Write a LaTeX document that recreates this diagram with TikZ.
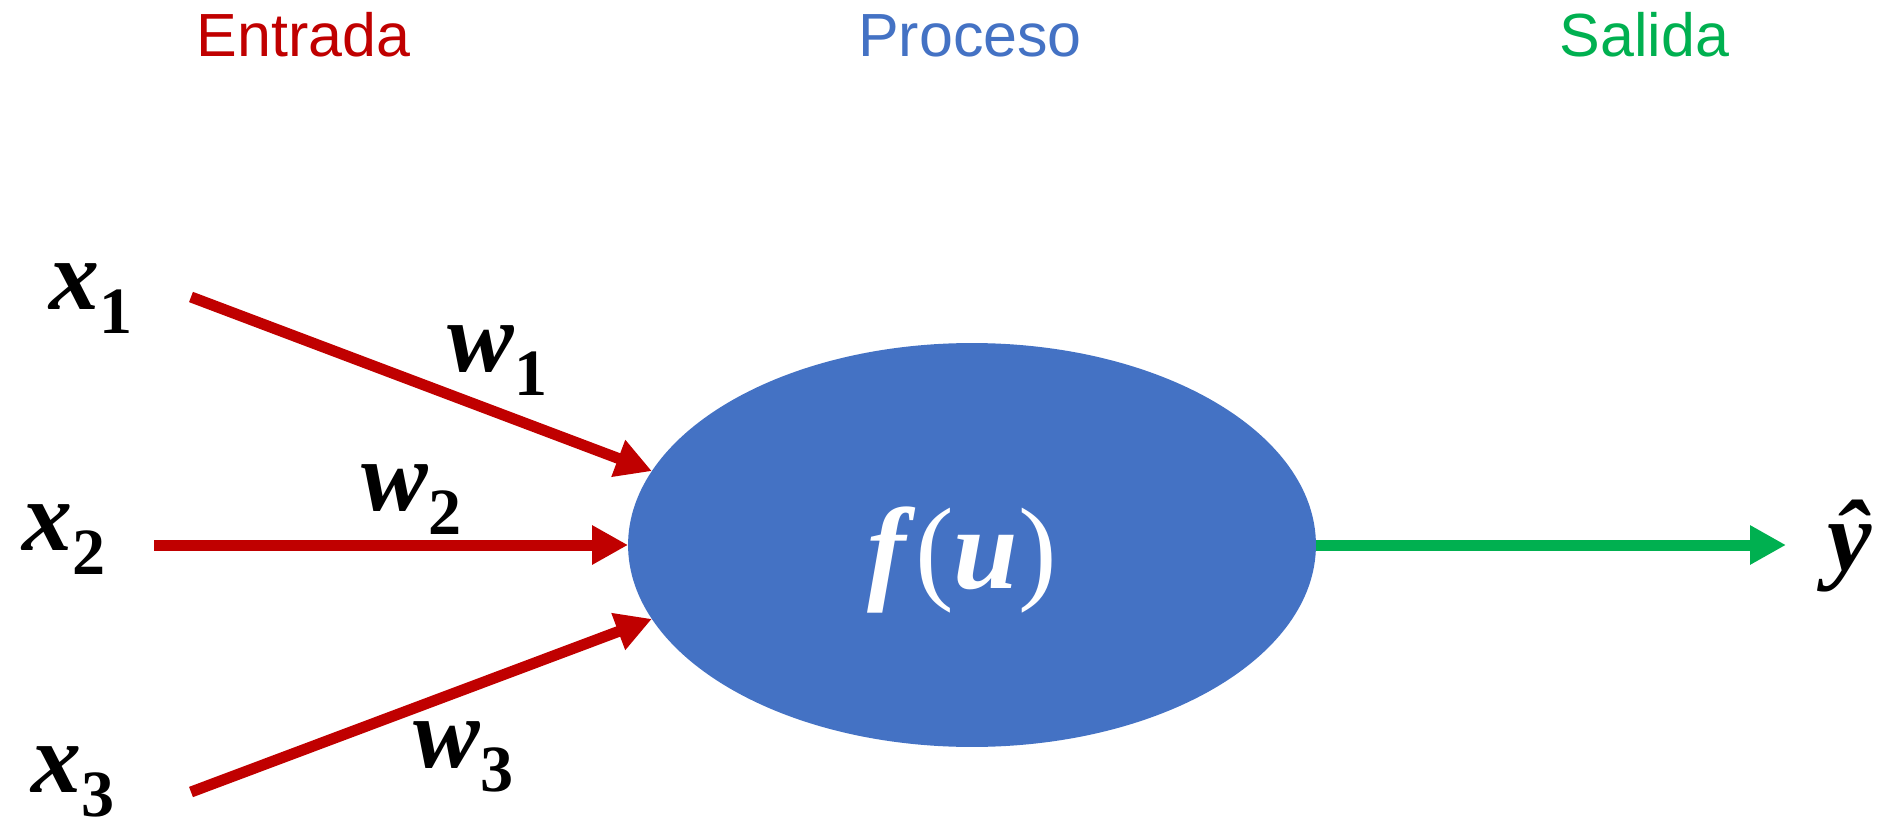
\documentclass[tikz,border=0pt]{standalone}
\usepackage{fontspec}
\setmainfont{Liberation Serif}
\newfontfamily\arial{Liberation Sans}
\usetikzlibrary{arrows.meta,shapes.geometric}
\definecolor{rojo}{HTML}{C00000}
\definecolor{azul}{HTML}{4472C4}
\definecolor{verde}{HTML}{00B050}
% variable with subscript, as in the slide
\newcommand{\entvar}[2]{\textbf{\textit{#1}}\raisebox{-13.7pt}{\fontsize{37.6}{37.6}\selectfont\bfseries #2}}
\tikzset{tit/.style={font=\arial\fontsize{34.7}{34.7}\selectfont, anchor=base},
  lbl/.style={font=\fontsize{56.9}{56.9}\selectfont, anchor=base west, inner sep=0pt}}

\begin{document}
\begin{tikzpicture}[x=0.02cm, y=-0.02cm, line width=0.22cm,
  >={Triangle[length=0.72cm, width=0.74cm]}]
  \useasboundingbox (0,0) rectangle (1883,824);
  % titles
  \node[tit, text=rojo]  (ent)  at (303.5,57)  {Entrada};
  \node[tit, text=azul]  (proc) at (970,57)    {Proceso};
  \node[tit, text=verde] (sal)  at (1644.5,57) {Salida};
  % neuron
  \node[ellipse, fill=azul, minimum width=13.76cm, minimum height=8.08cm,
    inner sep=0pt, outer sep=0pt] (neuron) at (972,545) {};
  \node[anchor=base, text=white, inner sep=0pt,
    font=\fontsize{66}{66}\selectfont\bfseries\itshape] (fu) at (962,588)
    {f\textup{\mdseries(}u\textup{\mdseries)}};
  % inputs and weights
  \node[lbl] (x1) at (44,309) {\entvar{x}{1}};
  \node[lbl] (x2) at (17,550) {\entvar{x}{2}};
  \node[lbl] (x3) at (26,792) {\entvar{x}{3}};
  \node[lbl] (w1) at (442,371) {\entvar{w}{1}};
  \node[lbl] (w2) at (356,510) {\entvar{w}{2}};
  \node[lbl] (w3) at (408,767) {\entvar{w}{3}};
  \node[lbl] (yhat) at (1822,570) {\textbf{\textit{ŷ}}};
  % connectors
  \coordinate (s1) at (191,297);
  \coordinate (s2) at (154,545);
  \coordinate (s3) at (191,792);
  \coordinate (out) at (1786,545);
  \draw[->, rojo] (s1) -- (neuron.167);
  \draw[->, rojo] (s2) -- (neuron.west);
  \draw[->, rojo] (s3) -- (neuron.193);
  \draw[->, verde] (neuron.east) -- (out);
\end{tikzpicture}
\end{document}
